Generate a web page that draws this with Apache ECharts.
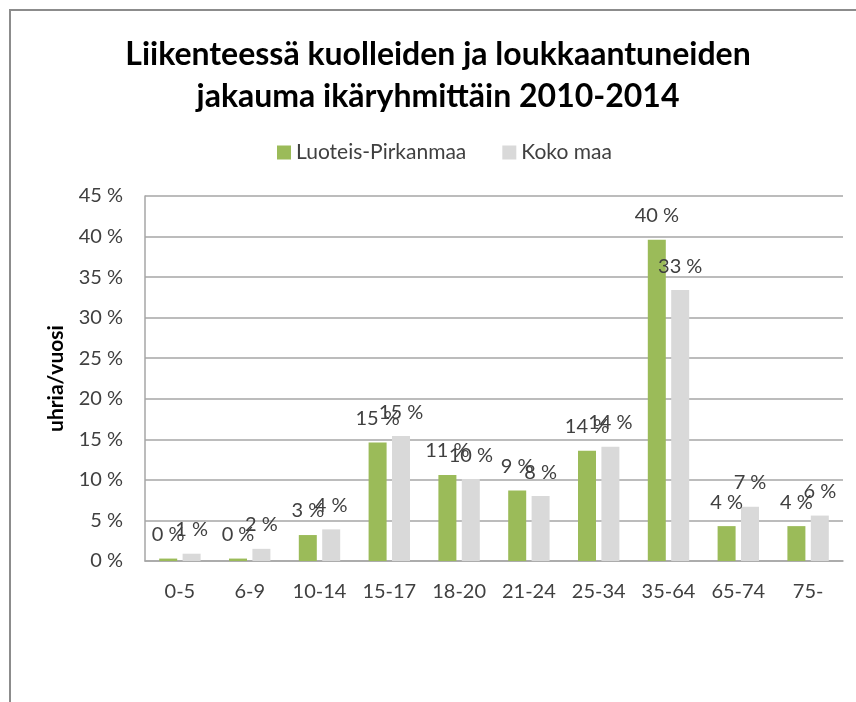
<!DOCTYPE html>
<html>
<head>
<meta charset="utf-8">
<script src="https://cdn.jsdelivr.net/npm/echarts@6/dist/echarts.min.js"></script>
<style>
  html, body { margin: 0; padding: 0; background: #fff; }
  #frame { position: absolute; left: 9px; top: 9px; width: 847px; height: 693px;
           border-left: 2px solid #8c8c8c; border-top: 2px solid #8c8c8c; box-sizing: border-box; }
  #chart { position: absolute; left: 0; top: 0; width: 856px; height: 702px; }
</style>
</head>
<body>
<div id="frame"></div>
<div id="chart"></div>
<script>
// ikäryhmät
var categories = ['0-5', '6-9', '10-14', '15-17', '18-20', '21-24', '25-34', '35-64', '65-74', '75-'];
// osuus uhreista, %
var pirkanmaa = [0.3, 0.3, 3.2, 14.6, 10.6, 8.7, 13.6, 39.6, 4.3, 4.3];
var kokoMaa = [0.9, 1.5, 3.9, 15.4, 10.1, 8.0, 14.1, 33.4, 6.7, 5.6];
var seriesNames = ['Luoteis-Pirkanmaa', 'Koko maa'];
var yTicks = [0, 5, 10, 15, 20, 25, 30, 35, 40, 45];

var FONT = 'Lato, "Open Sans", sans-serif';

function pctLabel(p) {
    return Math.round(p.value) + ' %';
}

var myChart = echarts.init(document.getElementById('chart'));
var options = {
    backgroundColor: 'transparent',
    textStyle: { fontFamily: FONT },
    title: {
        text: 'Liikenteessä kuolleiden ja loukkaantuneiden\njakauma ikäryhmittäin 2010-2014',
        left: 433,
        top: 29,
        textAlign: 'center',
        textStyle: {
            fontFamily: FONT,
            fontSize: 32,
            fontWeight: 'bold',
            lineHeight: 42,
            color: '#000'
        }
    },
    legend: {
        data: seriesNames,
        left: 272,
        top: 137,
        icon: 'rect',
        itemWidth: 14,
        itemHeight: 14,
        itemGap: 36,
        textStyle: { fontFamily: FONT, fontSize: 21, color: '#404040', padding: [0, 0, 0, 0] }
    },
    grid: {
        left: 145,
        right: 13,
        top: 196,
        bottom: 141
    },
    xAxis: {
        type: 'category',
        data: categories,
        axisLine: { lineStyle: { color: '#a6a6a6', width: 1.5 } },
        axisTick: { show: false },
        axisLabel: { interval: 0, fontFamily: FONT, fontSize: 20, color: '#404040', margin: 21 }
    },
    yAxis: {
        type: 'value',
        min: yTicks[0],
        max: yTicks[yTicks.length - 1],
        interval: 5,
        name: 'uhria/vuosi',
        nameLocation: 'middle',
        nameGap: 78,
        nameTextStyle: { fontFamily: FONT, fontSize: 21, fontWeight: 'bold', color: '#000' },
        axisLine: { show: true, lineStyle: { color: '#a6a6a6', width: 1.5 } },
        axisTick: { show: false },
        splitLine: { lineStyle: { color: '#a6a6a6', width: 1.5 } },
        axisLabel: {
            fontFamily: FONT, fontSize: 20, color: '#404040', margin: 22,
            formatter: function (v) { return v + ' %'; }
        }
    },
    series: [
        {
            name: seriesNames[0],
            type: 'bar',
            data: pirkanmaa,
            barWidth: 18,
            barGap: '30%',
            itemStyle: { color: '#9bbb59' },
            label: {
                show: true, position: 'top', distance: 14,
                fontFamily: FONT, fontSize: 20, color: '#404040',
                formatter: pctLabel
            }
        },
        {
            name: seriesNames[1],
            type: 'bar',
            data: kokoMaa,
            barWidth: 18,
            itemStyle: { color: '#d9d9d9' },
            label: {
                show: true, position: 'top', distance: 14,
                fontFamily: FONT, fontSize: 20, color: '#404040',
                formatter: pctLabel
            }
        }
    ]
};
myChart.setOption(options);
</script>
</body>
</html>
